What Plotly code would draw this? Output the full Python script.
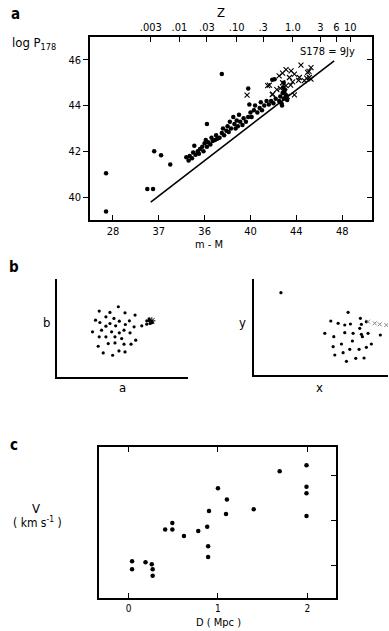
import plotly.graph_objects as go

W, H = 389, 631
FONT = "DejaVu Sans Condensed, Liberation Sans Narrow, DejaVu Sans, sans-serif"

# ---------------- Panel a data ----------------
a_xtick_vals = [28, 32, 36, 40, 44, 48]
a_xtick_text = ["28", "37", "36", "40", "44", "48"]
a_ytick_vals = [40, 42, 44, 46]
z_tick_pos = [31.3, 33.8, 36.2, 38.8, 41.1, 43.7, 46.1, 47.5, 48.7]
z_tick_text = [".003", ".01", ".03", ".10", ".3", "1.0", "3", "6", "10"]

dots_mM = [27.4, 27.4, 31.0, 31.5, 31.6, 32.2, 33.0, 34.4, 37.5, 36.2, 39.8, 42.1, 41.9,
           34.6, 34.7, 34.9, 35.0, 35.1, 35.2, 35.4, 35.5, 35.6, 35.8, 35.9, 36.0, 36.1,
           36.2, 36.3, 36.5, 36.6, 36.7, 36.9, 37.0, 37.1, 37.3, 37.5, 37.6, 37.7, 37.9,
           38.0, 38.1, 38.2, 38.3, 38.5, 38.6, 38.7, 38.8, 38.9, 39.0, 39.1, 39.3, 39.4,
           39.6, 39.8, 39.9, 40.0, 40.1, 40.3, 40.4, 40.6, 40.8, 40.9, 41.0, 41.2, 41.4,
           41.6, 41.8, 42.0, 42.2, 42.5, 42.6, 42.7, 42.8, 42.9, 43.0, 42.75, 42.85, 42.9,
           43.1, 43.2, 42.95, 43.05]
dots_logP = [41.04, 39.37, 40.35, 40.35, 42.0, 41.83, 41.43, 41.74, 45.38, 43.2, 44.75, 45.15, 45.13,
             41.6, 41.8, 41.7, 41.95, 42.25, 41.85, 42.0, 41.9, 42.1, 42.2, 42.0, 42.35, 42.5,
             42.2, 42.4, 42.3, 42.6, 42.45, 42.5, 42.7, 42.55, 42.6, 42.8, 43.0, 42.7, 42.9,
             43.1, 42.85, 43.3, 43.0, 43.5, 43.2, 43.0, 43.35, 43.1, 43.6, 43.3, 43.15, 43.45,
             43.3, 43.5, 44.05, 43.7, 43.5, 43.8, 44.0, 43.7, 43.9, 44.15, 43.8, 44.0, 44.2,
             44.05, 44.2, 44.1, 44.3, 44.2, 44.4, 44.1, 44.55, 44.3, 44.7, 44.0, 44.8, 45.0,
             44.45, 44.25, 44.6, 44.35]

cross_mM = [39.7, 41.5, 41.65, 41.9, 41.94, 42.5, 42.8, 42.8, 43.1, 43.1, 43.4, 43.54, 43.68,
            43.83, 43.83, 44.26, 44.4, 44.7, 44.98, 45.13, 45.28, 45.28, 42.3, 43.0, 43.2,
            42.6, 44.9, 45.1, 44.2, 43.5]
cross_logP = [44.46, 44.87, 44.9, 44.48, 44.5, 45.3, 45.42, 45.0, 45.57, 44.87, 45.23, 45.52, 45.04,
              45.38, 44.47, 45.23, 45.77, 45.09, 45.45, 45.23, 45.66, 45.16, 44.7, 44.6, 44.4,
              44.75, 45.2, 45.5, 45.1, 44.9]

limit_mM = [31.3, 47.3]
limit_logP = [39.78, 45.96]

# ---------------- Panel b data (arbitrary units) ----------------
b1_a = [183, 126, 158, 203, 233, 146, 115, 170, 128, 186, 216, 158, 146, 175, 204, 230,
        106, 133, 163, 186, 200, 218, 126, 146, 173, 193, 253, 123, 153, 173, 200, 221,
        235, 138, 166, 185, 203, 268, 268, 278, 276, 275, 285]
b1_b = [210, 197, 193, 192, 185, 180, 170, 175, 163, 167, 168, 160, 152, 153, 157, 150,
        135, 140, 135, 132, 140, 132, 120, 120, 120, 115, 153, 92, 100, 102, 98, 98,
        110, 72, 65, 78, 75, 168, 158, 160, 168, 174, 163]
b1_star_a = [283]
b1_star_b = [168]

b2_x = [81, 283, 231, 253, 273, 290, 320, 338, 318, 323, 343, 213, 240, 273, 298, 323,
        326, 380, 263, 296, 238, 288, 316, 338, 353, 243, 268, 278, 306, 331]
b2_y = [247, 188, 162, 155, 150, 153, 170, 160, 140, 152, 125, 125, 115, 127, 125, 122,
        115, 120, 93, 102, 85, 77, 77, 83, 93, 60, 67, 41, 50, 51]
b2_faint_x = [343, 363, 378, 398]
b2_faint_y = [160, 155, 152, 150]

# ---------------- Panel c data ----------------
D_Mpc = [0.04, 0.04, 0.19, 0.26, 0.27, 0.27, 0.41, 0.49, 0.49, 0.62, 0.78, 0.88, 0.89,
         0.89, 0.90, 1.00, 1.10, 1.09, 1.40, 1.69, 1.99, 1.99, 1.99, 1.99]
V_kms = [217, 181, 212, 203, 181, 152, 360, 389, 360, 330, 353, 372, 284,
         236, 443, 545, 494, 429, 450, 621, 648, 551, 522, 420]
c_xtick_vals = [0, 1, 2]
c_ytick_vals = [200, 400, 600]

fig = go.Figure()

# panel a
fig.add_trace(go.Scatter(x=limit_mM, y=limit_logP, mode="lines",
                         line=dict(color="black", width=1.6), xaxis="x", yaxis="y",
                         hoverinfo="skip", showlegend=False))
fig.add_trace(go.Scatter(x=dots_mM, y=dots_logP, mode="markers",
                         marker=dict(color="black", size=4.5), xaxis="x", yaxis="y",
                         showlegend=False))
fig.add_trace(go.Scatter(x=cross_mM, y=cross_logP, mode="markers",
                         marker=dict(symbol="x-thin", size=5, color="black",
                                     line=dict(color="black", width=1.1)),
                         xaxis="x", yaxis="y", showlegend=False))
# dummy traces for overlay axes
fig.add_trace(go.Scatter(x=[None], y=[None], xaxis="x2", yaxis="y", showlegend=False))
fig.add_trace(go.Scatter(x=[None], y=[None], xaxis="x", yaxis="y2", showlegend=False))

# panel b
fig.add_trace(go.Scatter(x=b1_a, y=b1_b, mode="markers", marker=dict(color="black", size=3.2),
                         xaxis="x3", yaxis="y3", showlegend=False))
fig.add_trace(go.Scatter(x=b1_star_a, y=b1_star_b, mode="markers",
                         marker=dict(symbol="asterisk-open", size=6, color="black",
                                     line=dict(color="black", width=1)),
                         xaxis="x3", yaxis="y3", showlegend=False))
fig.add_trace(go.Scatter(x=b2_x, y=b2_y, mode="markers", marker=dict(color="black", size=3.2),
                         xaxis="x4", yaxis="y4", showlegend=False))
fig.add_trace(go.Scatter(x=b2_faint_x, y=b2_faint_y, mode="markers",
                         marker=dict(symbol="x-thin", size=4, color="#888",
                                     line=dict(color="#888", width=1)),
                         xaxis="x4", yaxis="y4", showlegend=False))

# panel c
fig.add_trace(go.Scatter(x=D_Mpc, y=V_kms, mode="markers", marker=dict(color="black", size=4.5),
                         xaxis="x5", yaxis="y5", showlegend=False))

ax_common = dict(showgrid=False, zeroline=False, linecolor="black", linewidth=1.5,
                 tickcolor="black", tickwidth=1.3,
                 tickfont=dict(family=FONT, size=11, color="black"))

da_x = [90 / W, 372 / W]
da_y = [1 - 220 / H, 1 - 37 / H]
fig.update_layout(
    width=W, height=H, margin=dict(l=0, r=0, t=0, b=0),
    paper_bgcolor="white", plot_bgcolor="white", showlegend=False,
    xaxis=dict(**ax_common, domain=da_x, anchor="y", range=[26, 50.6], side="bottom",
               tickmode="array", tickvals=a_xtick_vals, ticktext=a_xtick_text,
               ticks="inside", ticklen=5, showline=True),
    xaxis2=dict(**ax_common, overlaying="x", anchor="y", side="top", range=[26, 50.6],
                tickmode="array", tickvals=z_tick_pos, ticktext=z_tick_text,
                ticks="inside", ticklen=5, showline=True),
    yaxis=dict(**ax_common, domain=da_y, anchor="x", range=[39, 47], side="left",
               tickmode="array", tickvals=a_ytick_vals, ticks="outside", ticklen=5,
               showline=True),
    yaxis2=dict(**ax_common, overlaying="y", anchor="x", side="right", range=[39, 47],
                tickmode="array", tickvals=a_ytick_vals, ticks="inside", ticklen=5,
                showticklabels=False, showline=True),
    xaxis3=dict(**ax_common, domain=[57 / W, 188 / W], anchor="y3", range=[0, 391],
                showticklabels=False, ticks="", showline=True),
    yaxis3=dict(**ax_common, domain=[1 - 377 / H, 1 - 279 / H], anchor="x3", range=[0, 293],
                showticklabels=False, ticks="", showline=True),
    xaxis4=dict(**ax_common, domain=[254 / W, 388 / W], anchor="y4", range=[0, 403],
                showticklabels=False, ticks="", showline=True),
    yaxis4=dict(**ax_common, domain=[1 - 375 / H, 1 - 279 / H], anchor="x4", range=[0, 288],
                showticklabels=False, ticks="", showline=True),
    xaxis5=dict(**{**ax_common, "tickfont": dict(family=FONT, size=10, color="black")},
                domain=[99 / W, 336 / W], anchor="y5", range=[-0.33, 2.32],
                tickmode="array", tickvals=c_xtick_vals, ticks="inside", ticklen=5,
                showline=True, mirror="ticks"),
    yaxis5=dict(**ax_common, domain=[1 - 598 / H, 1 - 447 / H], anchor="x5", range=[52, 730],
                side="right", tickmode="array", tickvals=c_ytick_vals, ticks="inside", ticklen=5,
                showticklabels=False, showline=True, mirror=True),
)

def ann(text, px, py, size=12, xanchor="center"):
    fig.add_annotation(text=text, x=px / W, y=1 - py / H, xref="paper", yref="paper",
                       showarrow=False, xanchor=xanchor, yanchor="middle",
                       font=dict(family=FONT, size=size, color="black"))

ann("<b>a</b>", 15, 14, 15)
ann("Z", 221, 13, 13)
ann("log P<sub>178</sub>", 34, 43, 13)
ann("S178 = 9Jy", 327, 51, 11)
ann("m - M", 209, 244, 11)
ann("<b>b</b>", 14, 267, 15)
ann("b", 46, 322, 13)
ann("a", 122, 387, 13)
ann("y", 242, 322, 13)
ann("x", 319, 387, 13)
ann("<b>c</b>", 14, 445, 15)
ann("V", 36, 508, 13)
ann("( km s<sup>-1</sup> )", 37, 522, 12)
ann("D ( Mpc )", 218, 622, 11)

fig.write_html("out.html", config={"displayModeBar": False},
               post_script="document.body.style.margin='0px';document.body.style.overflow='hidden';")
